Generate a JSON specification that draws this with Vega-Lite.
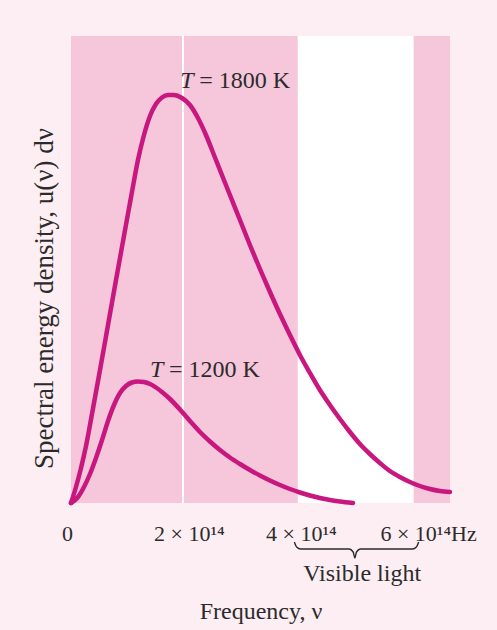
{
  "$schema": "https://vega.github.io/schema/vega-lite/v6.json",
  "width": 379,
  "height": 467,
  "autosize": {"type": "none"},
  "padding": {"left": 71, "top": 36, "right": 47, "bottom": 127},
  "background": "#fdeef3",
  "config": {"view": {"fill": "#f6c6da", "stroke": null}, "font": "Liberation Serif"},
  "datasets": {
    "curves": [
      {"T": "1800 K", "nu": 0, "u": 0},
      {"T": "1800 K", "nu": 0.089, "u": 16},
      {"T": "1800 K", "nu": 0.179, "u": 35},
      {"T": "1800 K", "nu": 0.268, "u": 57},
      {"T": "1800 K", "nu": 0.375, "u": 89},
      {"T": "1800 K", "nu": 0.518, "u": 133},
      {"T": "1800 K", "nu": 0.661, "u": 178},
      {"T": "1800 K", "nu": 0.804, "u": 223},
      {"T": "1800 K", "nu": 0.946, "u": 267},
      {"T": "1800 K", "nu": 1.089, "u": 311},
      {"T": "1800 K", "nu": 1.196, "u": 343},
      {"T": "1800 K", "nu": 1.304, "u": 368},
      {"T": "1800 K", "nu": 1.411, "u": 387},
      {"T": "1800 K", "nu": 1.518, "u": 399},
      {"T": "1800 K", "nu": 1.625, "u": 405.5},
      {"T": "1800 K", "nu": 1.732, "u": 408},
      {"T": "1800 K", "nu": 1.839, "u": 408},
      {"T": "1800 K", "nu": 1.982, "u": 405},
      {"T": "1800 K", "nu": 2.125, "u": 398},
      {"T": "1800 K", "nu": 2.268, "u": 385},
      {"T": "1800 K", "nu": 2.411, "u": 368},
      {"T": "1800 K", "nu": 2.554, "u": 348},
      {"T": "1800 K", "nu": 2.696, "u": 328},
      {"T": "1800 K", "nu": 2.839, "u": 308},
      {"T": "1800 K", "nu": 3.018, "u": 283},
      {"T": "1800 K", "nu": 3.196, "u": 258},
      {"T": "1800 K", "nu": 3.375, "u": 234},
      {"T": "1800 K", "nu": 3.554, "u": 211},
      {"T": "1800 K", "nu": 3.732, "u": 189},
      {"T": "1800 K", "nu": 3.911, "u": 168},
      {"T": "1800 K", "nu": 4.089, "u": 148},
      {"T": "1800 K", "nu": 4.268, "u": 130},
      {"T": "1800 K", "nu": 4.446, "u": 113},
      {"T": "1800 K", "nu": 4.625, "u": 98},
      {"T": "1800 K", "nu": 4.804, "u": 84},
      {"T": "1800 K", "nu": 4.982, "u": 71},
      {"T": "1800 K", "nu": 5.161, "u": 59},
      {"T": "1800 K", "nu": 5.339, "u": 49},
      {"T": "1800 K", "nu": 5.518, "u": 40},
      {"T": "1800 K", "nu": 5.696, "u": 32},
      {"T": "1800 K", "nu": 5.875, "u": 26},
      {"T": "1800 K", "nu": 6.054, "u": 21},
      {"T": "1800 K", "nu": 6.232, "u": 17},
      {"T": "1800 K", "nu": 6.411, "u": 14},
      {"T": "1800 K", "nu": 6.589, "u": 12},
      {"T": "1800 K", "nu": 6.768, "u": 11},
      {"T": "1200 K", "nu": 0, "u": 0},
      {"T": "1200 K", "nu": 0.125, "u": 6},
      {"T": "1200 K", "nu": 0.232, "u": 16},
      {"T": "1200 K", "nu": 0.339, "u": 29},
      {"T": "1200 K", "nu": 0.446, "u": 45},
      {"T": "1200 K", "nu": 0.554, "u": 63},
      {"T": "1200 K", "nu": 0.661, "u": 82},
      {"T": "1200 K", "nu": 0.768, "u": 98},
      {"T": "1200 K", "nu": 0.875, "u": 110},
      {"T": "1200 K", "nu": 0.982, "u": 117},
      {"T": "1200 K", "nu": 1.089, "u": 120.5},
      {"T": "1200 K", "nu": 1.196, "u": 121.5},
      {"T": "1200 K", "nu": 1.304, "u": 121},
      {"T": "1200 K", "nu": 1.411, "u": 119},
      {"T": "1200 K", "nu": 1.518, "u": 115.5},
      {"T": "1200 K", "nu": 1.625, "u": 111},
      {"T": "1200 K", "nu": 1.768, "u": 104},
      {"T": "1200 K", "nu": 1.946, "u": 93.5},
      {"T": "1200 K", "nu": 2.125, "u": 82},
      {"T": "1200 K", "nu": 2.304, "u": 71},
      {"T": "1200 K", "nu": 2.482, "u": 61.5},
      {"T": "1200 K", "nu": 2.661, "u": 53},
      {"T": "1200 K", "nu": 2.839, "u": 45.5},
      {"T": "1200 K", "nu": 3.018, "u": 39},
      {"T": "1200 K", "nu": 3.196, "u": 33},
      {"T": "1200 K", "nu": 3.375, "u": 27.5},
      {"T": "1200 K", "nu": 3.554, "u": 22.5},
      {"T": "1200 K", "nu": 3.732, "u": 18},
      {"T": "1200 K", "nu": 3.911, "u": 14},
      {"T": "1200 K", "nu": 4.089, "u": 10.5},
      {"T": "1200 K", "nu": 4.268, "u": 7.5},
      {"T": "1200 K", "nu": 4.446, "u": 5},
      {"T": "1200 K", "nu": 4.625, "u": 3},
      {"T": "1200 K", "nu": 4.804, "u": 1.5},
      {"T": "1200 K", "nu": 5.036, "u": 0}
    ],
    "visible": [{"band": "Visible light", "start": 4.05, "end": 6.12, "mid": 5.2}],
    "labels": [
      {"T": "1800 K", "label": "= 1800 K", "nu": 1.95, "u": 422},
      {"T": "1200 K", "label": "= 1200 K", "nu": 1.41, "u": 133}
    ],
    "brace": [
      {"nu": 3.99, "u": -39},
      {"nu": 4.03, "u": -44},
      {"nu": 4.1, "u": -46},
      {"nu": 4.97, "u": -46},
      {"nu": 5.04, "u": -49},
      {"nu": 5.07, "u": -55},
      {"nu": 5.1, "u": -49},
      {"nu": 5.17, "u": -46},
      {"nu": 6.1, "u": -46},
      {"nu": 6.17, "u": -44},
      {"nu": 6.21, "u": -39}
    ]
  },
  "layer": [
    {
      "data": {"name": "visible"},
      "mark": {"type": "rect", "color": "#ffffff"},
      "encoding": {
        "x": {"field": "start", "type": "quantitative", "scale": {"domain": [0, 6.77], "nice": false, "zero": false}},
        "x2": {"field": "end"}
      }
    },
    {
      "data": {"values": [{"nu": 2}]},
      "mark": {"type": "rule", "color": "#ffffff", "strokeWidth": 2},
      "encoding": {"x": {"field": "nu", "type": "quantitative"}}
    },
    {
      "data": {"name": "curves"},
      "mark": {"type": "line", "interpolate": "monotone", "color": "#c8177f", "strokeWidth": 4.5, "strokeCap": "round"},
      "encoding": {
        "x": {
          "field": "nu", "type": "quantitative",
          "scale": {"domain": [0, 6.77], "nice": false, "zero": false},
          "axis": {
            "values": [0, 2, 4, 6],
            "labelExpr": "datum.value == 0 ? '0' : datum.value + ' × 10¹⁴' + (datum.value == 6 ? 'Hz' : '')",
            "labelFont": "Liberation Serif",
            "labelFontSize": 22,
            "labelColor": "#2b2b2b",
            "labelPadding": 20,
            "labelFlush": false,
            "labelBound": false,
            "labelOverlap": false,
            "labelAlign": {"condition": {"test": "datum.value == 6", "value": "left"}, "value": "center"},
            "labelOffset": {"condition": [{"test": "datum.value == 0", "value": -4}, {"test": "datum.value == 6", "value": -27}], "value": 6},
            "ticks": false,
            "domain": false,
            "grid": false,
            "title": "Frequency, ν",
            "titleFont": "Liberation Serif",
            "titleFontSize": 24,
            "titleFontWeight": "normal",
            "titleColor": "#2b2b2b",
            "titleY": 96,
            "titleBaseline": "top"
          }
        },
        "y": {
          "field": "u", "type": "quantitative",
          "scale": {"domain": [0, 467], "nice": false},
          "axis": {
            "labels": false, "ticks": false, "domain": false, "grid": false,
            "title": "Spectral energy density, u(ν) dν",
            "titleFont": "Liberation Serif",
            "titleFontSize": 27,
            "titleFontWeight": "normal",
            "titleColor": "#2b2b2b",
            "titlePadding": 13,
            "titleY": 262
          }
        },
        "detail": {"field": "T"}
      }
    },
    {
      "data": {"name": "labels"},
      "mark": {"type": "text", "align": "left", "baseline": "middle", "fontSize": 24, "fontStyle": "italic", "color": "#2b2b2b", "font": "Liberation Serif"},
      "encoding": {
        "x": {"field": "nu", "type": "quantitative"},
        "y": {"field": "u", "type": "quantitative"},
        "text": {"value": "T"}
      }
    },
    {
      "data": {"name": "labels"},
      "mark": {"type": "text", "align": "left", "baseline": "middle", "fontSize": 24, "dx": 19, "color": "#2b2b2b", "font": "Liberation Serif"},
      "encoding": {
        "x": {"field": "nu", "type": "quantitative"},
        "y": {"field": "u", "type": "quantitative"},
        "text": {"field": "label"}
      }
    },
    {
      "data": {"name": "brace"},
      "mark": {"type": "line", "color": "#2b2b2b", "strokeWidth": 1.4, "interpolate": "monotone"},
      "encoding": {
        "x": {"field": "nu", "type": "quantitative"},
        "y": {"field": "u", "type": "quantitative"}
      }
    },
    {
      "data": {"name": "visible"},
      "mark": {"type": "text", "align": "center", "baseline": "middle", "fontSize": 24, "color": "#2b2b2b", "font": "Liberation Serif"},
      "encoding": {
        "x": {"field": "mid", "type": "quantitative"},
        "y": {"datum": -71},
        "text": {"field": "band"}
      }
    }
  ]
}
